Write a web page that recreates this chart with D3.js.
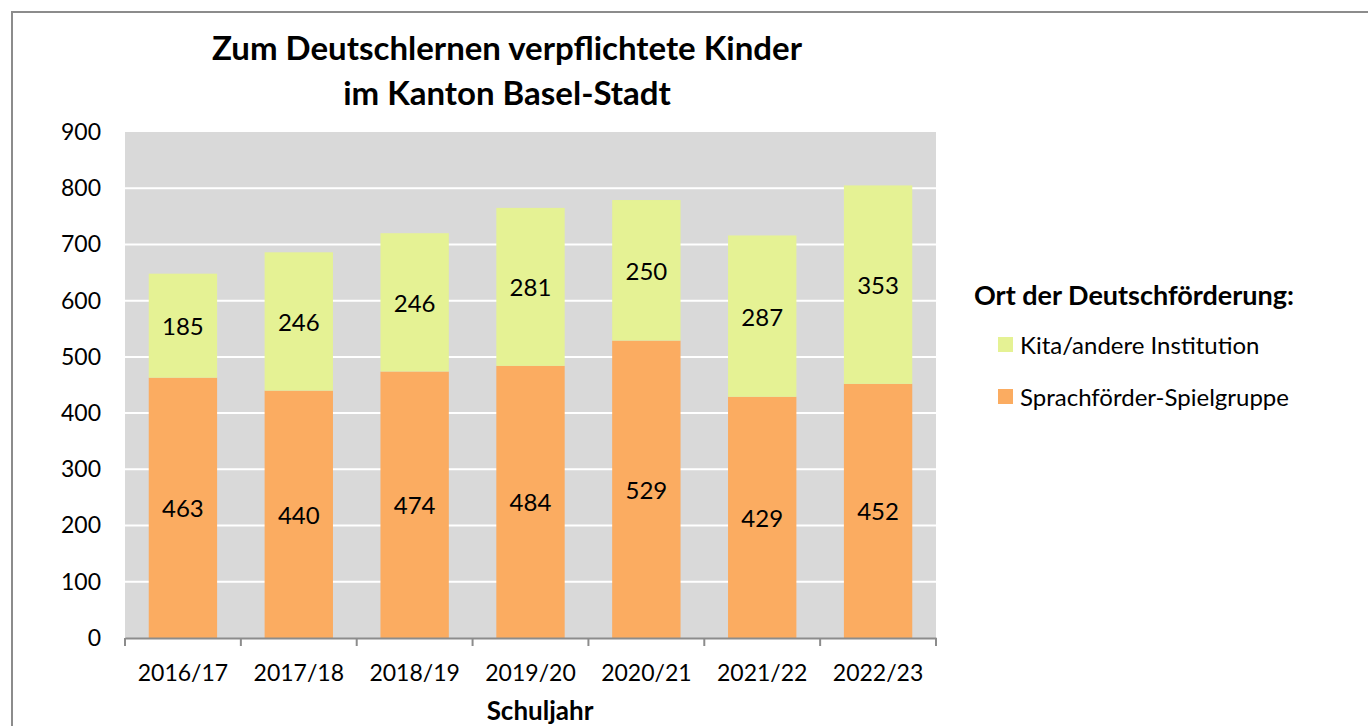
<!DOCTYPE html>
<html>
<head>
<meta charset="utf-8">
<script src="https://cdn.jsdelivr.net/npm/d3@7"></script>
<style>
  body { margin: 0; background: #fff; }
  svg text { font-family: Lato, "Open Sans", sans-serif; fill: #000; }
</style>
</head>
<body>
<svg id="chart" width="1368" height="726"></svg>
<script>
// data
var years = ["2016/17", "2017/18", "2018/19", "2019/20", "2020/21", "2021/22", "2022/23"];
var spielgruppe = [463, 440, 474, 484, 529, 429, 452];
var kita = [185, 246, 246, 281, 250, 287, 353];
var seriesNames = ["Kita/andere Institution", "Sprachförder-Spielgruppe"];
var yTicks = [0, 100, 200, 300, 400, 500, 600, 700, 800, 900];

var svg = d3.select("#chart");

// outer frame
svg.append("rect")
  .attr("x", 12).attr("y", 12)
  .attr("width", 1400).attr("height", 760)
  .attr("fill", "none")
  .attr("stroke", "#8c8c8c")
  .attr("stroke-width", 2);

var plotLeft = 125, plotRight = 936, plotTop = 132, plotBottom = 638;

var x = d3.scaleBand()
  .domain(years)
  .range([plotLeft, plotRight])
  .paddingInner(0.41)
  .paddingOuter(0.205);

var y = d3.scaleLinear()
  .domain([0, 900])
  .range([plotBottom, plotTop]);

// plot background
svg.append("rect")
  .attr("x", plotLeft).attr("y", plotTop)
  .attr("width", plotRight - plotLeft).attr("height", plotBottom - plotTop)
  .attr("fill", "#d9d9d9");

// gridlines
svg.selectAll(".grid")
  .data(yTicks.filter(function(d){ return d > 0 && d < 900; }))
  .enter().append("line")
  .attr("x1", plotLeft).attr("x2", plotRight)
  .attr("y1", function(d){ return y(d); })
  .attr("y2", function(d){ return y(d); })
  .attr("stroke", "#fff")
  .attr("stroke-width", 2);

// stack the data
var rows = years.map(function(yr, i){
  return { year: yr, spiel: spielgruppe[i], kita: kita[i] };
});
var stack = d3.stack().keys(["spiel", "kita"]);
var layers = stack(rows);
var colors = { spiel: "#fbac61", kita: "#e5f294" };

var g = svg.selectAll(".layer")
  .data(layers)
  .enter().append("g")
  .attr("fill", function(d){ return colors[d.key]; });

g.selectAll("rect")
  .data(function(d){ return d; })
  .enter().append("rect")
  .attr("x", function(d){ return x(d.data.year); })
  .attr("width", x.bandwidth())
  .attr("y", function(d){ return y(d[1]); })
  .attr("height", function(d){ return y(d[0]) - y(d[1]); });

// value labels
layers.forEach(function(layer){
  svg.selectAll(".lbl-" + layer.key)
    .data(layer)
    .enter().append("text")
    .attr("x", function(d){ return x(d.data.year) + x.bandwidth() / 2; })
    .attr("y", function(d){ return (y(d[0]) + y(d[1])) / 2; })
    .attr("text-anchor", "middle")
    .attr("dominant-baseline", "central")
    .style("font-size", "24px")
    .text(function(d){ return d[1] - d[0]; });
});

// x axis
var xAxis = d3.axisBottom(x).tickSize(0).tickPadding(27);
var xg = svg.append("g")
  .attr("transform", "translate(0," + plotBottom + ")")
  .call(xAxis);
xg.select(".domain").attr("stroke", "#8c8c8c").attr("stroke-width", 2);
xg.selectAll("text").style("font-size", "23px").style("font-family", "Lato, 'Open Sans', sans-serif");

// tick marks at band boundaries
var bounds = years.map(function(d){ return x(d) - x.step() * x.paddingInner() / 2; });
bounds.push(plotRight);
bounds[0] = plotLeft;
svg.selectAll(".xtick")
  .data(bounds)
  .enter().append("line")
  .attr("x1", function(d){ return d; })
  .attr("x2", function(d){ return d; })
  .attr("y1", plotBottom)
  .attr("y2", plotBottom + 8)
  .attr("stroke", "#8c8c8c")
  .attr("stroke-width", 2);

// y axis labels (no line)
var yAxis = d3.axisLeft(y).tickValues(yTicks).tickSize(0).tickPadding(24);
var yg = svg.append("g")
  .attr("transform", "translate(" + plotLeft + ",0)")
  .call(yAxis);
yg.select(".domain").remove();
yg.selectAll("text").style("font-size", "23px").style("font-family", "Lato, 'Open Sans', sans-serif");

// titles
svg.append("text")
  .attr("x", 507).attr("y", 60)
  .attr("text-anchor", "middle")
  .style("font-size", "33px").style("font-weight", "bold")
  .text("Zum Deutschlernen verpflichtete Kinder");
svg.append("text")
  .attr("x", 507).attr("y", 105)
  .attr("text-anchor", "middle")
  .style("font-size", "33px").style("font-weight", "bold")
  .text("im Kanton Basel-Stadt");

svg.append("text")
  .attr("x", 540).attr("y", 720)
  .attr("text-anchor", "middle")
  .style("font-size", "26px").style("font-weight", "bold")
  .text("Schuljahr");

// legend
svg.append("text")
  .attr("x", 974).attr("y", 305)
  .style("font-size", "27px").style("font-weight", "bold")
  .text("Ort der Deutschförderung:");

var legend = svg.selectAll(".legend")
  .data(seriesNames)
  .enter().append("g")
  .attr("transform", function(d, i){ return "translate(998," + (344 + i * 52) + ")"; });
legend.append("rect")
  .attr("x", 0).attr("y", -7)
  .attr("width", 15).attr("height", 15)
  .attr("fill", function(d, i){ return i === 0 ? colors.kita : colors.spiel; });
legend.append("text")
  .attr("x", 22).attr("y", 0)
  .attr("dominant-baseline", "central")
  .style("font-size", "24px")
  .text(function(d){ return d; });
</script>
</body>
</html>
